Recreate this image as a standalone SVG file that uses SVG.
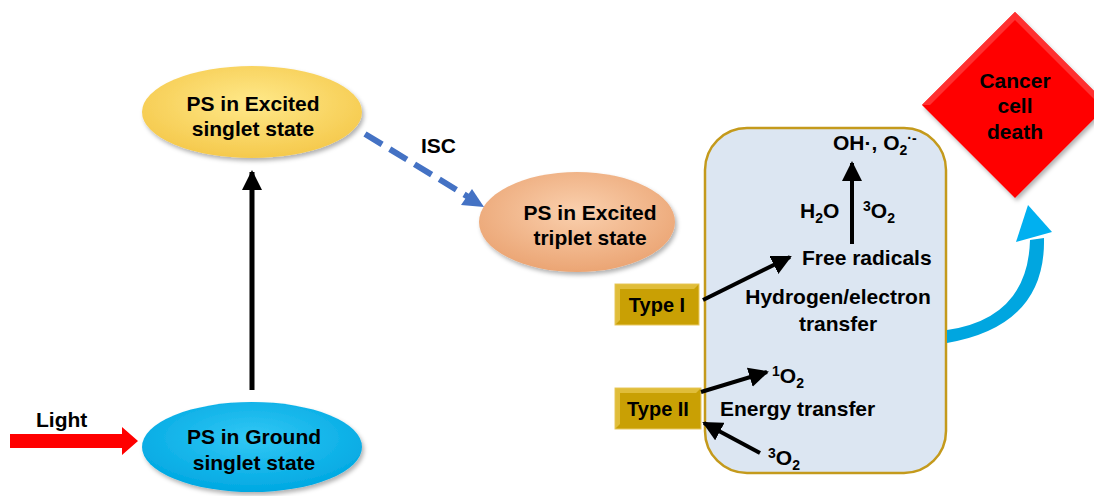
<svg xmlns="http://www.w3.org/2000/svg" width="1094" height="496" viewBox="0 0 1094 496">
<defs>
<radialGradient id="gY" cx="50%" cy="40%" r="60%"><stop offset="0" stop-color="#FFE98A"/><stop offset="1" stop-color="#F5C94C"/></radialGradient>
<radialGradient id="gO" cx="50%" cy="40%" r="60%"><stop offset="0" stop-color="#FAD0AE"/><stop offset="1" stop-color="#EBA574"/></radialGradient>
<radialGradient id="gB" cx="50%" cy="40%" r="60%"><stop offset="0" stop-color="#33C8F5"/><stop offset="1" stop-color="#00A8E2"/></radialGradient>
<filter id="sh" x="-10%" y="-10%" width="125%" height="130%"><feDropShadow dx="2" dy="3" stdDeviation="2" flood-color="#000" flood-opacity="0.3"/></filter>
<marker id="ah" viewBox="0 0 10 10" refX="9" refY="5" markerWidth="4" markerHeight="4" orient="auto"><path d="M0,0 L10,5 L0,10 z" fill="#000"/></marker>
<marker id="ahs" viewBox="0 0 10 10" refX="9" refY="5" markerWidth="5" markerHeight="5" orient="auto"><path d="M0,0 L10,5 L0,10 z" fill="#000"/></marker>
</defs>
<style>
text{font-family:"Liberation Sans",Arial,sans-serif;font-weight:bold;fill:#000}
.t{font-size:21px}
.c{text-anchor:middle}
.ln{stroke:#000;stroke-width:4;fill:none}
.sub{font-size:14px}
</style>
<g id="light"><text class="t" x="36" y="427">Light</text></g>
<g id="isc"><text class="t" x="421" y="153">ISC</text></g>
<g id="excited-singlet">
<ellipse cx="252" cy="112" rx="110" ry="46" fill="url(#gY)" filter="url(#sh)"/>
<text class="t c" x="253" y="111">PS in Excited</text>
<text class="t c" x="253" y="136">singlet state</text>
</g>
<g id="ground-singlet">
<ellipse cx="252" cy="447" rx="110" ry="45" fill="url(#gB)" filter="url(#sh)"/>
<text class="t c" x="254" y="444">PS in Ground</text>
<text class="t c" x="254" y="470">singlet state</text>
</g>
<g id="excited-triplet">
<ellipse cx="577" cy="222" rx="98" ry="50" fill="url(#gO)" filter="url(#sh)"/>
<text class="t c" x="590" y="220">PS in Excited</text>
<text class="t c" x="590" y="245">triplet state</text>
</g>
<g id="process-box">
<rect x="705" y="128" width="241" height="345" rx="42" fill="#DCE6F2" stroke="#C49A1C" stroke-width="2.5"/>
<text class="t" x="833" y="150">OH·, O<tspan class="sub" dy="5">2</tspan><tspan class="sub" dy="-12">·-</tspan></text>
<text class="t" x="800" y="218">H<tspan class="sub" dy="5">2</tspan><tspan dy="-5">O</tspan></text>
<text class="t" x="863" y="218"><tspan class="sub" dy="-7">3</tspan><tspan dy="7">O</tspan><tspan class="sub" dy="5">2</tspan></text>
<text class="t" x="802" y="265">Free radicals</text>
<text class="t c" x="838" y="304">Hydrogen/electron</text>
<text class="t c" x="838" y="331">transfer</text>
<text class="t" x="772" y="383"><tspan class="sub" dy="-7">1</tspan><tspan dy="7">O</tspan><tspan class="sub" dy="5">2</tspan></text>
<text class="t" x="720" y="416">Energy transfer</text>
<text class="t" x="768" y="465"><tspan class="sub" dy="-7">3</tspan><tspan dy="7">O</tspan><tspan class="sub" dy="5">2</tspan></text>
</g>
<g id="type-1">
<rect x="615" y="284" width="84" height="41" fill="#C9A004" stroke="#E8C860" stroke-width="1"/>
<path d="M615,284 H699 L694,289 H620 V320 L615,325 Z" fill="#E6C448" opacity="0.8"/>
<text class="t c" x="657" y="312" style="font-size:20px">Type I</text>
</g>
<g id="type-2">
<rect x="615" y="388" width="86" height="41" fill="#C9A004" stroke="#E8C860" stroke-width="1"/>
<path d="M615,388 H701 L696,393 H620 V424 L615,429 Z" fill="#E6C448" opacity="0.8"/>
<text class="t c" x="658" y="416" style="font-size:20px">Type II</text>
</g>
<g id="cancer-death">
<polygon points="1015,12 1108,105 1015,198 922,105" fill="#FF0000" filter="url(#sh)"/>
<polygon points="1015,12 1108,105 1100,105 1015,20 930,105 922,105" fill="#FF3030"/>
<text class="t c" x="1015" y="88">Cancer</text>
<text class="t c" x="1015" y="113">cell</text>
<text class="t c" x="1015" y="139">death</text>
</g>
<g id="connectors">
<line x1="252" y1="390" x2="252" y2="172" stroke="#000" stroke-width="5" marker-end="url(#ah)"/>
<line x1="365" y1="134" x2="470" y2="198" stroke="#4472C4" stroke-width="6" stroke-dasharray="20,9"/>
<polygon points="484,207 461,205 472,189" fill="#4472C4"/>
<path d="M10,434 H122 V427 L138,441 L122,455 V448 H10 Z" fill="#FF0000"/>
<line x1="703" y1="300" x2="790" y2="257" class="ln" marker-end="url(#ahs)"/>
<line x1="852" y1="244" x2="852" y2="163" class="ln" marker-end="url(#ahs)"/>
<line x1="701" y1="392" x2="767" y2="372" class="ln" marker-end="url(#ahs)"/>
<line x1="760" y1="453" x2="704" y2="423" class="ln" marker-end="url(#ahs)"/>
<path d="M947,330 Q1028,318 1030,240 L1044,238 Q1046,326 947,343 Z" fill="#00A6E0"/>
<polygon points="1016,242 1052,232 1028,205" fill="#00B0F0"/>
</g>
</svg>
